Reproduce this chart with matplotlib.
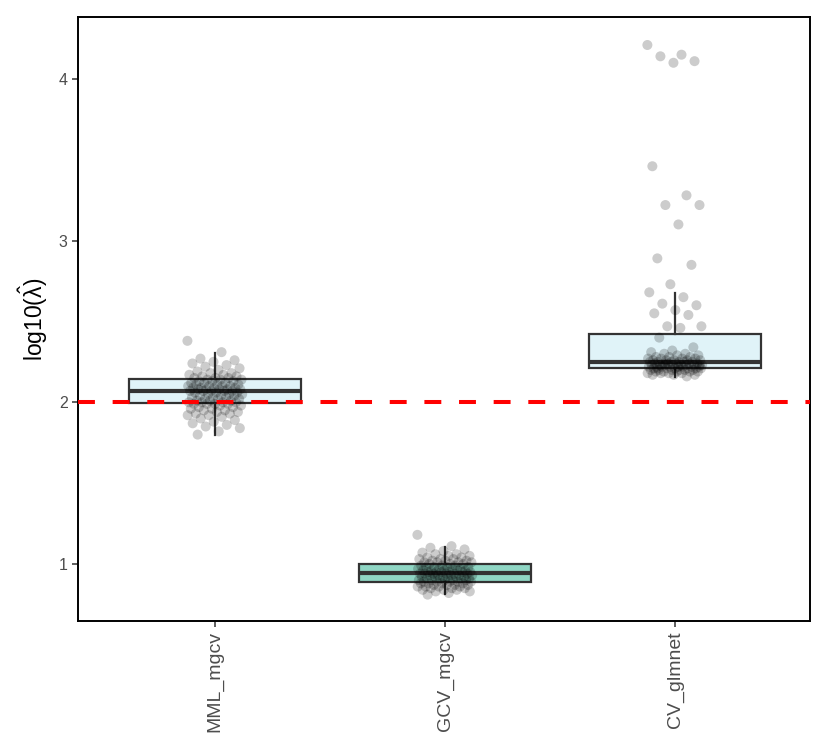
import numpy as np
import matplotlib
import matplotlib.pyplot as plt

matplotlib.use('Agg')

# Fonts: Arial-like text, upright greek in the math label
plt.rcParams['font.family'] = ['Liberation Sans', 'DejaVu Sans']
plt.rcParams['mathtext.fontset'] = 'custom'
plt.rcParams['mathtext.rm'] = 'Liberation Sans'
plt.rcParams['mathtext.it'] = 'Liberation Sans'

# Categories and colours
methods = ['MML_mgcv', 'GCV_mgcv', 'CV_glmnet']
box_fill = ['#E0F3F8', '#8FD6C4', '#E0F3F8']

# Box statistics (log10 lambda hat)
whislo = [1.796, 0.814, 2.155]
q1 = [1.994, 0.890, 2.215]
med = [2.068, 0.944, 2.247]
q3 = [2.142, 1.000, 2.420]
whishi = [2.303, 1.107, 2.675]

true_value = 2.0

# Individual estimates (jittered points)
mml_vals = [2.38, 2.31, 2.27, 2.26, 2.25, 2.24, 2.23, 2.22, 2.21, 2.20,
            2.19, 2.18, 2.18, 2.17, 2.17, 2.16, 2.16, 2.15, 2.15, 2.15,
            2.14, 2.14, 2.14, 2.13, 2.13, 2.13, 2.12, 2.12, 2.12, 2.11,
            2.11, 2.11, 2.10, 2.10, 2.10, 2.10, 2.09, 2.09, 2.09, 2.09,
            2.08, 2.08, 2.08, 2.08, 2.08, 2.07, 2.07, 2.07, 2.07, 2.07,
            2.06, 2.06, 2.06, 2.05, 2.05, 2.05, 2.04, 2.04, 2.04, 2.03,
            2.03, 2.03, 2.02, 2.02, 2.02, 2.01, 2.01, 2.01, 2.00, 2.00,
            2.00, 2.00, 1.99, 1.99, 1.99, 1.99, 1.98, 1.98, 1.97, 1.97,
            1.96, 1.96, 1.95, 1.95, 1.94, 1.94, 1.93, 1.93, 1.92, 1.92,
            1.91, 1.90, 1.89, 1.88, 1.87, 1.86, 1.85, 1.84, 1.82, 1.80]

gcv_vals = [1.18, 1.11, 1.10, 1.09, 1.08, 1.07, 1.06, 1.06, 1.05, 1.05,
            1.04, 1.04, 1.03, 1.03, 1.03, 1.02, 1.02, 1.02, 1.01, 1.01,
            1.01, 1.01, 1.00, 1.00, 1.00, 0.99, 0.99, 0.99, 0.98, 0.98,
            0.98, 0.98, 0.97, 0.97, 0.97, 0.97, 0.96, 0.96, 0.96, 0.96,
            0.96, 0.95, 0.95, 0.95, 0.95, 0.95, 0.95, 0.94, 0.94, 0.94,
            0.94, 0.94, 0.94, 0.93, 0.93, 0.93, 0.93, 0.93, 0.92, 0.92,
            0.92, 0.92, 0.92, 0.91, 0.91, 0.91, 0.91, 0.91, 0.90, 0.90,
            0.90, 0.90, 0.90, 0.89, 0.89, 0.89, 0.89, 0.89, 0.88, 0.88,
            0.88, 0.88, 0.87, 0.87, 0.87, 0.87, 0.86, 0.86, 0.86, 0.86,
            0.85, 0.85, 0.85, 0.84, 0.84, 0.84, 0.83, 0.83, 0.82, 0.81]

cv_vals = [4.21, 4.15, 4.14, 4.11, 4.10, 3.46, 3.28, 3.22, 3.22, 3.10,
           2.89, 2.85, 2.73, 2.68, 2.65, 2.61, 2.60, 2.57, 2.55, 2.54,
           2.47, 2.47, 2.46, 2.40, 2.34, 2.32, 2.31, 2.30, 2.30, 2.29,
           2.29, 2.28, 2.28, 2.28, 2.27, 2.27, 2.27, 2.27, 2.26, 2.26,
           2.26, 2.26, 2.26, 2.25, 2.25, 2.25, 2.25, 2.25, 2.25, 2.24,
           2.24, 2.24, 2.24, 2.24, 2.24, 2.23, 2.23, 2.23, 2.23, 2.23,
           2.23, 2.23, 2.23, 2.22, 2.22, 2.22, 2.22, 2.22, 2.22, 2.22,
           2.22, 2.21, 2.21, 2.21, 2.21, 2.21, 2.21, 2.20, 2.20, 2.20,
           2.20, 2.20, 2.20, 2.19, 2.19, 2.19, 2.19, 2.19, 2.18, 2.18,
           2.18, 2.18, 2.17, 2.17, 2.17, 2.16, 2.24, 2.23, 2.22, 2.21]

point_sets = [mml_vals, gcv_vals, cv_vals]

fig = plt.figure(figsize=(8.25, 7.5), dpi=100)
ax = fig.add_axes([0.0945, 0.172, 0.8873, 0.8053])

positions = np.arange(1, len(methods) + 1)

stats = []
for i, name in enumerate(methods):
    stats.append({'label': name, 'whislo': whislo[i], 'q1': q1[i], 'med': med[i],
                  'q3': q3[i], 'whishi': whishi[i], 'fliers': []})

edge = '#333333'
bp = ax.bxp(stats, positions=positions, widths=0.75, patch_artist=True,
            showcaps=False, showfliers=False,
            boxprops=dict(edgecolor=edge, linewidth=1.6),
            whiskerprops=dict(color=edge, linewidth=1.6),
            medianprops=dict(color=edge, linewidth=3.0, solid_capstyle='butt'),
            zorder=2)
for patch, col in zip(bp['boxes'], box_fill):
    patch.set_facecolor(col)

# horizontal jitter, fixed pattern so it is the same every run
for pos, vals in zip(positions, point_sets):
    idx = np.arange(len(vals))
    offs = ((idx * 0.6180339887) % 1.0 - 0.5) * 0.24
    ax.scatter(pos + offs, vals, s=52, color='black', alpha=0.2,
               edgecolors='none', zorder=3)

ax.axhline(true_value, color='#FF0000', linewidth=2.9,
           linestyle=(0, (4.2, 4.4)), zorder=4)

ax.set_xlim(0.404, 3.587)
ax.set_ylim(0.647, 4.383)
ax.set_yticks([1, 2, 3, 4])
ax.set_xticks(positions)
ax.set_xticklabels(methods, rotation=90, fontsize=14, color='#4D4D4D')
ax.tick_params(axis='y', labelsize=11.5, labelcolor='#4D4D4D')
ax.tick_params(axis='both', color='#333333', length=4, width=1.1)
ax.set_ylabel(r'log10($\hat{\lambda}$)', fontsize=16.5, labelpad=6)

for side in ax.spines.values():
    side.set_linewidth(1.4)
    side.set_color('black')

fig.savefig('out.png', dpi=100)
